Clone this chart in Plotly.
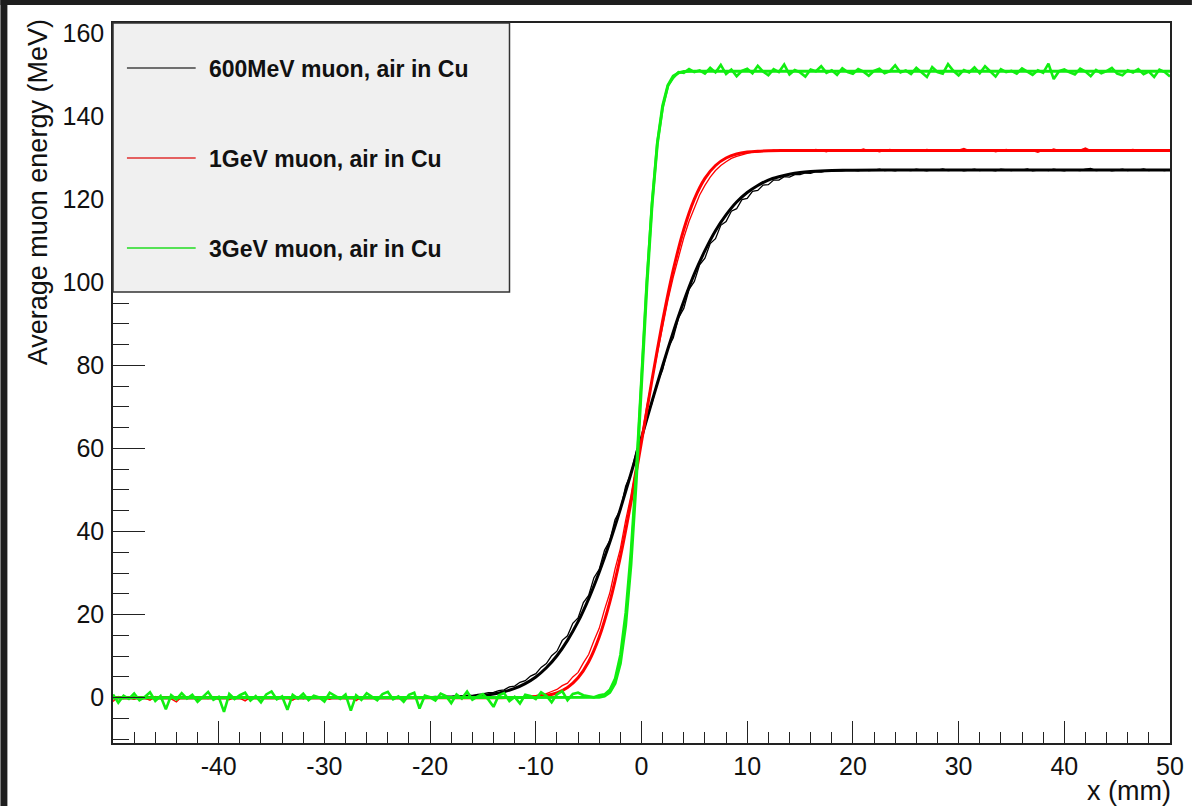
import numpy as np
import plotly.graph_objects as go

# ---------------- data ----------------
# histogram bin centres (0.5 mm bins) from -50 to 50 mm
bin_x = np.linspace(-50, 50, 201)

hist_600MeV = [
    0.2, -0.1, 0.1, 0.0, -0.2, 0.1, 0.0, 0.2, -0.1, 0.0,
    0.1, -0.2, 0.0, 0.1, -0.1, 0.2, 0.0, -0.1, 0.1, 0.0,
    -0.2, 0.1, 0.0, 0.1, -0.1, 0.0, 0.2, -0.1, 0.1, 0.0,
    0.1, 0.0, -0.1, 0.2, 0.0, 0.1, -0.2, 0.1, 0.0, 0.1,
    0.0, 0.2, -0.1, 0.1, 0.0, -0.1, 0.2, 0.1, 0.0, 0.2,
    0.1, 0.0, 0.2, 0.1, 0.1, 0.0, 0.2, 0.1, 0.2, 0.1,
    0.2, 0.3, 0.2, 0.4, 0.3, 0.5, 0.4, 0.6, 0.5, 0.8,
    0.9, 1.2, 1.3, 1.7, 1.9, 2.6, 2.8, 3.7, 4.1, 5.2,
    5.8, 7.3, 8.2, 10.1, 11.2, 13.8, 14.9, 17.9, 19.2, 22.9,
    24.6, 28.9, 30.9, 35.5, 37.8, 42.9, 45.2, 50.9, 53.9, 59.4,
    62.4, 67.6, 70.9, 75.9, 78.9, 84.1, 86.6, 91.4, 93.7, 98.3,
    100.2, 104.2, 105.8, 109.3, 110.5, 113.7, 114.6, 117.1, 117.7, 119.9,
    120.2, 121.9, 122.1, 123.4, 123.5, 124.6, 124.6, 125.4, 125.3, 125.9,
    125.9, 126.3, 126.2, 126.6, 126.5, 126.8, 126.7, 126.9, 126.8, 127.0,
    127.0, 126.8, 127.1, 126.9, 127.0, 127.2, 126.9, 127.0, 126.8, 127.1,
    127.0, 126.9, 127.2, 127.0, 126.8, 127.1, 127.0, 127.3, 126.9, 127.0,
    127.1, 126.8, 127.0, 127.2, 126.9, 127.1, 127.0, 126.8, 127.2, 127.0,
    126.9, 127.1, 127.0, 127.3, 126.8, 127.0, 127.1, 126.9, 127.2, 127.0,
    126.8, 127.1, 127.0, 126.9, 127.2, 127.4, 126.9, 127.0, 127.1, 126.8,
    127.0, 127.2, 126.9, 127.1, 127.0, 127.3, 126.9, 127.1, 127.0, 126.9,
    127.1,
]

hist_1GeV = [
    -0.9, 0.3, -0.2, 0.1, -0.4, 0.2, -0.1, -0.6, 0.3, -0.2,
    0.1, -0.3, -1.0, 0.2, -0.1, 0.3, -0.4, 0.0, -0.2, 0.2,
    -0.3, 0.1, -0.5, 0.2, -0.1, -0.8, 0.1, 0.3, -0.2, 0.0,
    0.2, -0.3, 0.1, -0.1, -0.6, 0.2, 0.0, -0.2, 0.3, -0.1,
    0.1, -0.4, 0.2, 0.0, -0.2, 0.1, -0.7, 0.2, -0.1, 0.1,
    -0.2, 0.3, 0.0, -0.1, 0.2, -0.3, 0.1, 0.0, -0.2, 0.1,
    0.0, -0.1, 0.2, 0.0, 0.1, -0.1, 0.1, 0.0, 0.0, 0.1,
    0.0, 0.1,
    0.0, 0.1, 0.0, 0.1, 0.1, 0.2, 0.2, 0.4, 0.5, 0.8,
    1.0, 1.5, 2.0, 2.9, 3.5, 5.0, 6.1, 8.4, 10.4, 13.7,
    16.7, 21.2, 25.2, 31.0, 35.9, 42.7, 48.6, 56.2, 62.5, 70.1,
    76.4, 83.6, 89.6, 95.7, 101.2, 106.2, 110.7, 114.7, 118.0, 121.0,
    123.3, 125.3, 126.9, 128.1, 129.0, 129.8, 130.3, 130.7, 131.0, 131.3,
    131.3, 131.6, 131.5, 131.8, 131.6, 131.7, 131.8,
    131.9, 131.5, 131.8, 131.6, 132.0, 131.7, 131.4, 131.9, 131.6, 131.8,
    131.5, 131.9, 131.7, 132.1, 131.6, 131.8, 131.4, 131.7, 132.0, 131.6,
    131.8, 131.5, 131.9, 131.7, 131.6, 132.0, 131.8, 131.5, 131.7, 131.9,
    131.6, 131.8, 132.2, 131.7, 131.5, 131.9, 131.6, 131.8, 131.4, 131.7,
    132.0, 131.6, 131.8, 131.5, 131.9, 131.7, 131.3, 131.8, 131.6, 132.1,
    131.7, 131.5, 131.9, 131.6, 131.8, 132.3, 131.7, 131.5, 131.8, 131.6,
    131.9, 131.7, 131.5, 131.8, 132.0, 131.6, 131.7, 131.9, 131.5, 131.8,
    131.6, 131.9,
]

hist_3GeV = [
    0.8, -1.2, 0.5, -0.3, 1.0, -0.6, 0.2, 1.3, -0.8, 0.4,
    -2.8, 0.6, -0.4, 1.1, -0.2, 0.7, -1.0, 0.3, 1.4, -0.5,
    0.2, -3.4, 0.9, -0.3, 0.6, 1.2, -0.7, 0.4, -1.1, 0.8,
    1.5, -0.4, 0.3, -2.9, 0.7, -0.2, 1.0, -0.6, 0.5, 0.1,
    -0.9, 1.2, 0.4, -0.3, 0.8, -3.1, 0.6, -0.5, 1.1, 0.2,
    -0.6, 0.9, 1.4, -0.4, 0.3, -1.0, 0.7, 1.2, -2.6, 0.5,
    0.1, -0.7, 1.0, 0.4, -1.3, 0.8, -0.2, 1.5, -0.5, 0.3,
    0.9, -0.4, -2.2, 0.6, 1.1, -0.8, 0.2, -1.4, 0.7, 0.4,
    -0.3, 1.3, 0.5, -1.1, 0.8, 1.6, -0.6, 0.9, 1.2, 0.6,
    0.3, 0.1, 0.6, 0.8, 1.9, 4.6, 10.3, 20.4, 35.2, 54.6,
    77.2, 100.4, 119.0, 133.6, 142.0, 147.3, 149.2, 150.6, 150.4, 151.3,
    150.6,
    151.0, 150.2, 151.6, 150.5, 152.3, 150.1, 151.2, 149.6, 150.9, 151.4,
    150.3, 152.1, 150.7, 149.8, 151.3, 150.6, 152.4, 150.0, 151.1, 150.5,
    149.5, 151.2, 150.8, 152.0, 150.4, 151.0, 149.9, 151.5, 150.6, 150.2,
    151.3, 150.7, 149.7, 150.9, 151.4, 150.3, 150.8, 152.2, 150.5, 151.0,
    150.1, 151.6, 150.4, 149.4, 151.8, 150.6, 150.2, 152.5, 150.9, 149.8,
    151.1, 150.5, 151.7, 150.3, 152.0, 150.8, 149.5, 151.3, 150.6, 150.9,
    150.2, 151.5, 150.7, 149.9, 151.0, 150.4, 152.6, 148.9, 150.8, 151.2,
    150.5, 150.0, 151.4, 150.7, 149.6, 151.1, 150.3, 150.8, 151.6, 150.2,
    149.8, 151.0, 150.5, 151.3, 150.1, 150.7, 149.4, 151.2, 150.6, 149.5,
]

fit600_x = [-50, -25, -20, -18, -16, -15, -14, -13, -12, -11, -10, -9, -8, -7, -6, -5, -4, -3, -2, -1,
            0, 1, 2, 3, 4, 5, 6, 7, 8, 9, 10, 11, 12, 13, 14, 15, 16, 18, 20, 25, 50]
fit600_y = [0.0, 0.0, 0.03, 0.10, 0.33, 0.55, 0.90, 1.44, 2.25, 3.40, 5.0, 7.2, 10.1, 13.8, 18.3, 23.8,
            30.2, 37.4, 45.4, 53.9, 62.6, 71.4, 79.9, 88.0, 95.4, 102.0, 107.6, 112.4, 116.2, 119.3,
            121.6, 123.3, 124.6, 125.4, 126.0, 126.4, 126.64, 126.88, 126.96, 127.0, 127.0]

fit1G_x = [-50, -14, -12, -11, -10, -9, -8, -7, -6, -5, -4, -3, -2, -1, 0, 1, 2, 3, 4, 5, 6, 7, 8, 9,
           10, 11, 12, 14, 50]
fit1G_y = [0.0, 0.0, 0.03, 0.08, 0.22, 0.53, 1.18, 2.47, 4.8, 8.65, 14.6, 23.0, 33.9, 47.0, 61.6, 76.6,
           90.7, 102.9, 112.7, 120.0, 125.0, 128.1, 129.9, 130.86, 131.34, 131.56, 131.65, 131.7, 131.7]

fit3G_x = [-50, -5, -4, -3.5, -3, -2.5, -2, -1.5, -1, -0.5, 0, 0.5, 1, 1.5, 2, 2.5, 3, 3.5, 4, 5, 50]
fit3G_y = [0.0, 0.0, 0.1, 0.39, 1.24, 3.44, 8.26, 17.4, 32.0, 52.0, 75.4, 98.8, 118.8, 133.4, 142.5,
           147.4, 149.6, 150.4, 150.7, 150.8, 150.8]

legend_labels = ["600MeV muon, air in Cu", "1GeV muon, air in Cu", "3GeV muon, air in Cu"]
x_tickvals = [-40, -30, -20, -10, 0, 10, 20, 30, 40, 50]
x_ticktext = ["-40", "-30", "-20", "-10", "0", "10", "20", "30", "40", "50"]
y_tickvals = [0, 20, 40, 60, 80, 100, 120, 140, 160]

# ---------------- style ----------------
W, H = 1196, 806
L, R, T, B = 113, 22, 23, 63
PW, PH = W - L - R, H - T - B
BLACK, RED, GREEN = "#000000", "#ff0000", "#11ee11"
FONT = "Liberation Sans, Arial, Helvetica, sans-serif"


def px(xp):
    return (xp - L) / PW


def py(yp):
    return (H - B - yp) / PH


fig = go.Figure()
fig.add_trace(go.Scatter(x=bin_x, y=hist_600MeV, mode="lines", line=dict(color=BLACK, width=1.3)))
fig.add_trace(go.Scatter(x=fit600_x, y=fit600_y, mode="lines", line=dict(color=BLACK, width=3, shape="spline", smoothing=0.6)))
fig.add_trace(go.Scatter(x=bin_x, y=hist_1GeV, mode="lines", line=dict(color=RED, width=1.3)))
fig.add_trace(go.Scatter(x=fit1G_x, y=fit1G_y, mode="lines", line=dict(color=RED, width=3, shape="spline", smoothing=0.6)))
fig.add_trace(go.Scatter(x=fit3G_x, y=fit3G_y, mode="lines", line=dict(color=GREEN, width=3)))
fig.add_trace(go.Scatter(x=bin_x, y=hist_3GeV, mode="lines", line=dict(color=GREEN, width=2.6)))

x_minor = [v for v in range(-48, 50, 2) if v % 10 != 0]
y_minor = [v for v in range(-10, 161, 5) if v % 20 != 0]

fig.update_xaxes(range=[-50, 50], showgrid=False, zeroline=False, showline=True, mirror=True,
                 linecolor="#222", linewidth=1.5, ticks="inside", ticklen=22, tickwidth=1.3,
                 tickcolor="#222", tickmode="array", tickvals=x_tickvals, ticktext=x_ticktext,
                 ticklabelstandoff=0,
                 tickfont=dict(family=FONT, size=25, color="#111"),
                 minor=dict(tickmode="array", tickvals=x_minor, ticks="inside", ticklen=11,
                            tickwidth=1.3, tickcolor="#222"))
fig.update_yaxes(range=[-10.9, 162.4], showgrid=False, zeroline=False, showline=True, mirror=True,
                 linecolor="#222", linewidth=1.5, ticks="inside", ticklen=32, tickwidth=1.3,
                 tickcolor="#222", tickmode="array", tickvals=y_tickvals, ticklabelstandoff=2,
                 tickfont=dict(family=FONT, size=25, color="#111"),
                 minor=dict(tickmode="array", tickvals=y_minor, ticks="inside", ticklen=16,
                            tickwidth=1.3, tickcolor="#222"))

shapes = []
# dark outer strips of the screenshot
shapes.append(dict(type="rect", xref="paper", yref="paper", x0=px(0), x1=px(7), y0=py(H), y1=py(0),
                   fillcolor="#1e1e1e", line=dict(width=0), layer="above"))
shapes.append(dict(type="rect", xref="paper", yref="paper", x0=px(0), x1=px(W), y0=py(5), y1=py(0),
                   fillcolor="#1e1e1e", line=dict(width=0), layer="above"))
# legend box
shapes.append(dict(type="rect", xref="paper", yref="paper", x0=px(L), x1=px(511), y0=py(292), y1=py(T),
                   fillcolor="#f0f0f0", line=dict(color="#333", width=1.5), layer="above"))
legend_colors = ["#444444", "#e03030", "#22dd22"]
legend_y = [68, 158, 248]
for c, yy in zip(legend_colors, legend_y):
    shapes.append(dict(type="line", xref="paper", yref="paper", x0=px(127), x1=px(196), y0=py(yy), y1=py(yy),
                       line=dict(color=c, width=1.6), layer="above"))

annotations = []
for lab, yy in zip(legend_labels, legend_y):
    annotations.append(dict(xref="paper", yref="paper", x=px(207), y=py(yy + 1), text="<b>%s</b>" % lab,
                            showarrow=False, xanchor="left", yanchor="middle",
                            font=dict(family=FONT, size=23, color="#111")))
annotations.append(dict(xref="paper", yref="paper", x=px(38), y=py(17), text="Average muon energy (MeV)",
                        textangle=-90, showarrow=False, xanchor="center", yanchor="top",
                        font=dict(family=FONT, size=27, color="#111")))
annotations.append(dict(xref="paper", yref="paper", x=px(1177), y=py(791), text="x (mm)",
                        showarrow=False, xanchor="right", yanchor="middle",
                        font=dict(family=FONT, size=27, color="#111")))

fig.update_layout(width=W, height=H, margin=dict(l=L, r=R, t=T, b=B),
                  paper_bgcolor="white", plot_bgcolor="white", showlegend=False,
                  shapes=shapes, annotations=annotations)

fig.write_html("out.html")
